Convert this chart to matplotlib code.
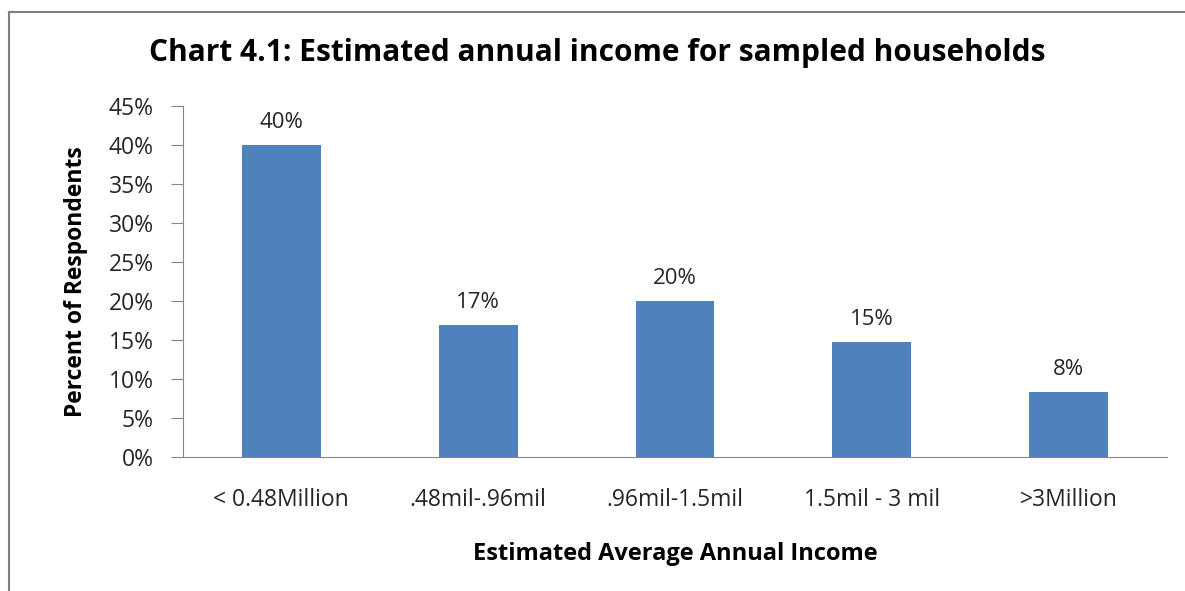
import matplotlib
matplotlib.use("Agg")
import matplotlib.pyplot as plt
from matplotlib.lines import Line2D
import numpy as np

# income bands and share of respondents
categories = ["< 0.48Million", ".48mil-.96mil", ".96mil-1.5mil", "1.5mil - 3 mil", ">3Million"]
shares = [40.0, 16.9, 20.0, 14.7, 8.3]
yticks = [0, 5, 10, 15, 20, 25, 30, 35, 40, 45]

plt.rcParams['font.family'] = ['Open Sans', 'DejaVu Sans']

fig = plt.figure(figsize=(11.85, 5.91), dpi=100)
ax = fig.add_axes([0.1544, 0.2267, 0.8304, 0.5939])

x = np.arange(len(categories))
bars = ax.bar(x, shares, width=0.4, color="#4F81BD")

for b, v in zip(bars, shares):
    ax.text(b.get_x() + b.get_width() / 2, v + 1.6, f"{v:.0f}%",
            ha="center", va="bottom", fontsize=16, color="#262626")

ax.set_xlim(-0.5, len(categories) - 0.5)
ax.set_ylim(0, 45)
ax.set_yticks(yticks)
ax.set_yticklabels([f"{t}%" for t in yticks], fontsize=16.5, color="#262626")
ax.set_xticks(x)
ax.set_xticklabels(categories, fontsize=16.5, color="#262626")
ax.tick_params(axis="x", length=0, pad=22)
ax.tick_params(axis="y", length=9, color="#868686", pad=12)

for s in ["top", "right"]:
    ax.spines[s].set_visible(False)
for s in ["left", "bottom"]:
    ax.spines[s].set_color("#868686")

ax.set_xlabel("Estimated Average Annual Income", fontsize=17, fontweight="bold", labelpad=22)
ax.set_ylabel("Percent of Respondents", fontsize=16.5, fontweight="bold", labelpad=15)

fig.text(0.504, 0.91, "Chart 4.1: Estimated annual income for sampled households",
         ha="center", va="center", fontsize=21.5, fontweight="bold")

# chart frame (left and top edges visible)
fig.add_artist(Line2D([0.008, 0.008], [0.0, 0.98], color="#808080", lw=1.5))
fig.add_artist(Line2D([0.008, 1.0], [0.98, 0.98], color="#808080", lw=1.5))

fig.savefig("out.png", dpi=100)
